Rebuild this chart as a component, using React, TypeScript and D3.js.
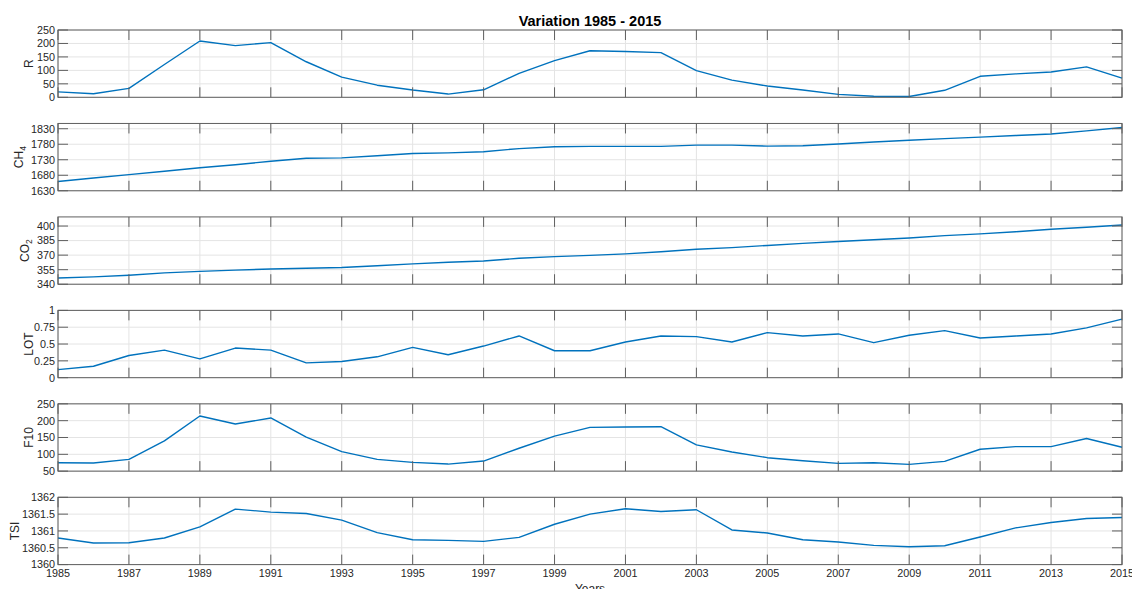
import React from "react";
import * as d3 from "d3";

// ---- data -------------------------------------------------------------
const YEARS = [
  1985, 1986, 1987, 1988, 1989, 1990, 1991, 1992, 1993, 1994, 1995, 1996,
  1997, 1998, 1999, 2000, 2001, 2002, 2003, 2004, 2005, 2006, 2007, 2008,
  2009, 2010, 2011, 2012, 2013, 2014, 2015,
];
const X_TICKS = [
  1985, 1987, 1989, 1991, 1993, 1995, 1997, 1999, 2001, 2003, 2005, 2007,
  2009, 2011, 2013, 2015,
];

const R_VALUES = [
  20, 13, 33, 122, 209, 192, 203, 132, 75, 45, 27, 12, 28, 89, 136, 173, 170,
  166, 99, 64, 42, 27, 11, 4, 3, 26, 78, 87, 94, 113, 71,
];
const CH4_VALUES = [
  1660, 1671, 1682, 1693, 1704, 1714, 1725, 1735, 1736, 1743, 1750, 1752,
  1756, 1766, 1772, 1773, 1773, 1773, 1777, 1777, 1774, 1775, 1781, 1787,
  1793, 1798, 1803, 1808, 1813, 1823, 1834,
];
const CO2_VALUES = [
  346.4, 347.6, 349.3, 351.7, 353.2, 354.5, 355.7, 356.5, 357.2, 359.0, 361.0,
  362.7, 363.9, 366.8, 368.5, 369.7, 371.3, 373.5, 376.0, 377.7, 380.0, 382.1,
  384.0, 385.8, 387.6, 390.1, 391.9, 394.1, 396.7, 398.8, 401.0,
];
const LOT_VALUES = [
  0.12, 0.17, 0.33, 0.41, 0.28, 0.44, 0.41, 0.22, 0.24, 0.31, 0.45, 0.34,
  0.47, 0.62, 0.4, 0.4, 0.53, 0.62, 0.61, 0.53, 0.67, 0.62, 0.65, 0.52, 0.63,
  0.7, 0.59, 0.62, 0.65, 0.74, 0.87,
];
const F10_VALUES = [
  75, 74, 85, 140, 214, 190, 208, 151, 108, 85, 76, 71, 80, 118, 154, 180,
  181, 182, 128, 107, 90, 81, 73, 75, 70, 79, 115, 123, 123, 147, 121,
];
const TSI_VALUES = [
  1360.79, 1360.64, 1360.65, 1360.79, 1361.12, 1361.65, 1361.56, 1361.52,
  1361.32, 1360.95, 1360.74, 1360.72, 1360.69, 1360.81, 1361.2, 1361.5,
  1361.66, 1361.58, 1361.63, 1361.03, 1360.94, 1360.74, 1360.67, 1360.57,
  1360.53, 1360.56, 1360.82, 1361.09, 1361.25, 1361.37, 1361.4,
];

const R_TICKS = [0, 50, 100, 150, 200, 250];
const CH4_TICKS = [1630, 1680, 1730, 1780, 1830];
const CO2_TICKS = [340, 355, 370, 385, 400];
const LOT_TICKS = [0, 0.25, 0.5, 0.75, 1];
const F10_TICKS = [50, 100, 150, 200, 250];
const TSI_TICKS = [1360, 1360.5, 1361, 1361.5, 1362];

type Panel = {
  name: string;
  sub?: string;
  values: number[];
  domain: [number, number];
  ticks: number[];
};

const PANELS: Panel[] = [
  { name: "R", values: R_VALUES, domain: [0, 250], ticks: R_TICKS },
  { name: "CH", sub: "4", values: CH4_VALUES, domain: [1630, 1847], ticks: CH4_TICKS },
  { name: "CO", sub: "2", values: CO2_VALUES, domain: [340, 409.4], ticks: CO2_TICKS },
  { name: "LOT", values: LOT_VALUES, domain: [0, 1], ticks: LOT_TICKS },
  { name: "F10", values: F10_VALUES, domain: [50, 250], ticks: F10_TICKS },
  { name: "TSI", values: TSI_VALUES, domain: [1360, 1362], ticks: TSI_TICKS },
];

// ---- layout -----------------------------------------------------------
const WIDTH = 1132;
const HEIGHT = 589;
const LEFT = 58;
const RIGHT = 1122;
const FIRST_TOP = 30;
const PANEL_STEP = 93.46;
const PANEL_H = 67.3;
const TICK_LEN = 10;
// baseline x of each rotated y-axis label
const LABEL_X = [33, 23, 28.5, 33, 33, 18.5];

const FONT = "'Liberation Sans', Arial, Helvetica, sans-serif";
const LINE_COLOR = "#0072BD";
const AXIS_COLOR = "#5f5f5f";
const GRID_COLOR = "#e4e4e4";
const TEXT_COLOR = "#262626";

const x = d3.scaleLinear().domain([1985, 2015]).range([LEFT, RIGHT]);

function PanelView({ p, i }: { p: Panel; i: number }) {
  const top = FIRST_TOP + i * PANEL_STEP;
  const bottom = top + PANEL_H;
  const y = d3.scaleLinear().domain(p.domain).range([bottom, top]);
  const line = d3
    .line<number>()
    .x((_, k) => x(YEARS[k]))
    .y((v) => y(v));
  const isLast = i === PANELS.length - 1;
  const midY = (top + bottom) / 2;

  return (
    <g>
      {/* grid */}
      {X_TICKS.map((t) => (
        <line key={"gx" + t} x1={x(t)} x2={x(t)} y1={top} y2={bottom}
          stroke={GRID_COLOR} strokeWidth={1} />
      ))}
      {p.ticks.map((t) => (
        <line key={"gy" + t} x1={LEFT} x2={RIGHT} y1={y(t)} y2={y(t)}
          stroke={GRID_COLOR} strokeWidth={1} />
      ))}
      {/* series */}
      <path d={line(p.values) || ""} fill="none" stroke={LINE_COLOR}
        strokeWidth={1.4} strokeLinejoin="round" />
      {/* box */}
      <rect x={LEFT} y={top} width={RIGHT - LEFT} height={PANEL_H}
        fill="none" stroke={AXIS_COLOR} strokeWidth={1} />
      {/* x tick marks, top and bottom */}
      {X_TICKS.map((t) => (
        <g key={"tx" + t}>
          <line x1={x(t)} x2={x(t)} y1={bottom} y2={bottom - TICK_LEN}
            stroke={AXIS_COLOR} strokeWidth={1} />
          <line x1={x(t)} x2={x(t)} y1={top} y2={top + TICK_LEN}
            stroke={AXIS_COLOR} strokeWidth={1} />
        </g>
      ))}
      {/* y tick marks, left and right */}
      {p.ticks.map((t) => (
        <g key={"ty" + t}>
          <line x1={LEFT} x2={LEFT + TICK_LEN} y1={y(t)} y2={y(t)}
            stroke={AXIS_COLOR} strokeWidth={1} />
          <line x1={RIGHT} x2={RIGHT - TICK_LEN} y1={y(t)} y2={y(t)}
            stroke={AXIS_COLOR} strokeWidth={1} />
          <text x={LEFT - 3} y={y(t)} dy="0.36em" textAnchor="end"
            fontSize={10.8} fill={TEXT_COLOR}>
            {String(t)}
          </text>
        </g>
      ))}
      {/* x tick labels on the bottom panel */}
      {isLast &&
        X_TICKS.map((t) => (
          <text key={"lx" + t} x={x(t)} y={bottom + 12.5} textAnchor="middle"
            fontSize={10.8} fill={TEXT_COLOR}>
            {String(t)}
          </text>
        ))}
      {/* y label */}
      <text transform={`translate(${LABEL_X[i]},${midY}) rotate(-90)`}
        textAnchor="middle" fontSize={12} fill={TEXT_COLOR}>
        {p.name}
        {p.sub && (
          <tspan fontSize={8.5} dy={3}>{p.sub}</tspan>
        )}
      </text>
    </g>
  );
}

export default function App() {
  return (
    <svg width={WIDTH} height={HEIGHT} viewBox={`0 0 ${WIDTH} ${HEIGHT}`}
      style={{ position: "absolute", left: 0, top: 0, background: "#fff", fontFamily: FONT }}>
      <rect x={0} y={0} width={WIDTH} height={HEIGHT} fill="#fff" />
      <text x={590} y={25.5} textAnchor="middle" fontSize={14.5}
        fontWeight="bold" fill="#000">
        Variation 1985 - 2015
      </text>
      {PANELS.map((p, i) => (
        <PanelView key={p.name} p={p} i={i} />
      ))}
      <text x={590} y={593} textAnchor="middle" fontSize={12} fill={TEXT_COLOR}>
        Years
      </text>
    </svg>
  );
}
